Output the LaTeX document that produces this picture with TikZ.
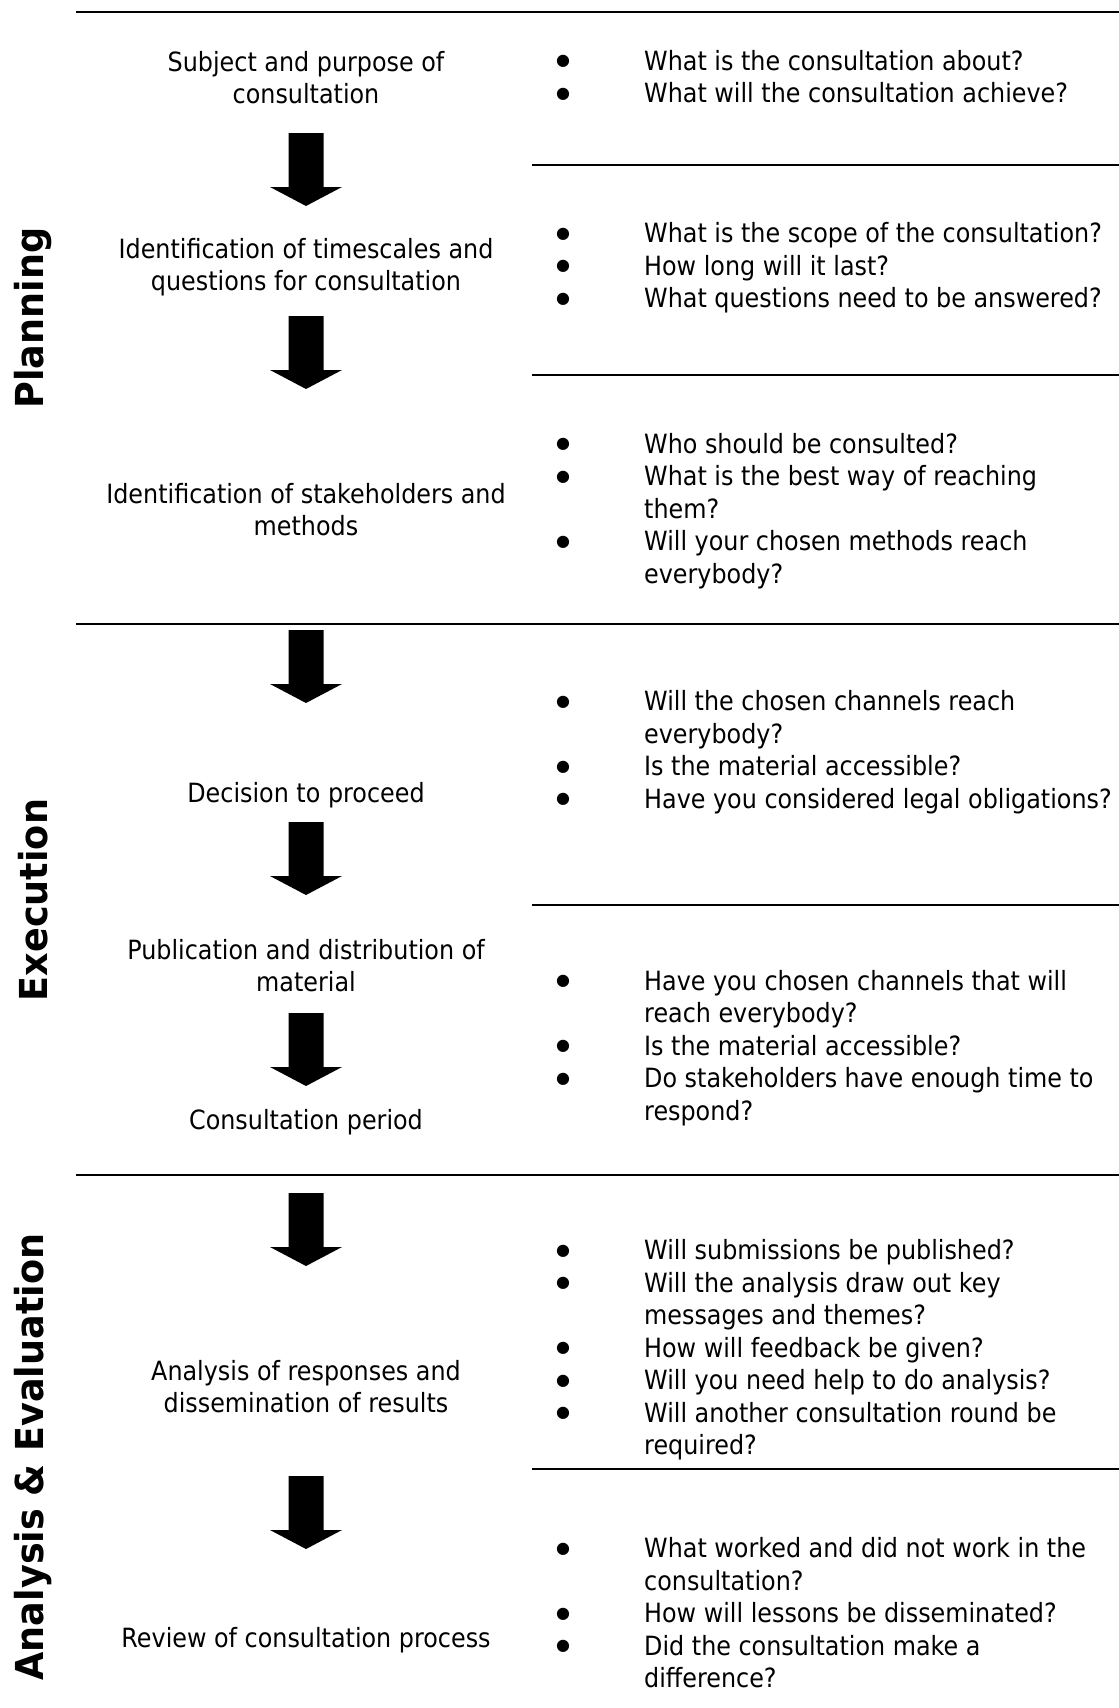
\documentclass[tikz,border=0pt]{standalone}
\usepackage{fontspec}
\setmainfont{DejaVu Sans}[FakeStretch=0.9]
\newfontfamily\phasefont{DejaVu Sans}[FakeStretch=0.95]
\newfontfamily\bulfont{DejaVu Sans}
\newcommand\qbul{\leavevmode\llap{\makebox[0pt]{\raisebox{4.5pt}{\bulfont\fontsize{16}{16}\selectfont ●}}\hspace{81pt}}}
\begin{document}
\begin{tikzpicture}[x=1pt,y=-1pt,
  sepline/.style={line width=2pt},
  stage/.style={align=center,inner sep=0pt,font=\fontsize{26.5}{32}\selectfont},
  qlist/.style={align=left,anchor=west,inner sep=0pt,font=\fontsize{26.5}{32.5}\selectfont},
  phase/.style={rotate=90,inner sep=0pt,font=\phasefont\fontsize{38.5}{42}\selectfont\bfseries},
  barrow/.pic={\fill (-17.5,0) -- (17.5,0) -- (17.5,54) -- (36,54) -- (0,73) -- (-36,54) -- (-17.5,54) -- cycle;}]
\useasboundingbox (0,0) rectangle (1119,1708);
% section and row lines
\draw[sepline] (76,12) -- (1119,12);
\draw[sepline] (76,624) -- (1119,624);
\draw[sepline] (76,1175) -- (1119,1175);
\draw[sepline] (532,165) -- (1119,165);
\draw[sepline] (532,375) -- (1119,375);
\draw[sepline] (532,905) -- (1119,905);
\draw[sepline] (532,1469) -- (1119,1469);
% phase labels
\node[phase] (p1) at (33,318) {Planning};
\node[phase] (p2) at (33,900) {Execution};
\node[phase] (p3) at (33,1457) {Analysis \& Evaluation};
% stages
\node[stage] (s1) at (306,78) {Subject and purpose of\\consultation};
\node[stage] (s2) at (306,267) {Identification of timescales and\\questions for consultation};
\node[stage] (s3) at (306,510) {Identification of stakeholders and\\methods};
\node[stage] (s4) at (306,795) {Decision to proceed};
\node[stage] (s5) at (306,966) {Publication and distribution of\\material};
\node[stage] (s6) at (306,1122) {Consultation period};
\node[stage] (s7) at (306,1387) {Analysis of responses and\\dissemination of results};
\node[stage] (s8) at (306,1640) {Review of consultation process};
% arrows
\pic at (306,133) {barrow};
\pic at (306,316) {barrow};
\pic at (306,630) {barrow};
\pic at (306,822) {barrow};
\pic at (306,1013) {barrow};
\pic at (306,1193) {barrow};
\pic at (306,1476) {barrow};
% questions
\node[qlist] (q1) at (644,76.5) {\qbul What is the consultation about?\\\qbul What will the consultation achieve?};
\node[qlist] (q2) at (644,268) {\qbul What is the scope of the consultation?\\\qbul How long will it last?\\\qbul What questions need to be answered?};
\node[qlist] (q3) at (644,511) {\qbul Who should be consulted?\\\qbul What is the best way of reaching\\them?\\\qbul Will your chosen methods reach\\everybody?};
\node[qlist] (q4) at (644,752) {\qbul Will the chosen channels reach\\everybody?\\\qbul Is the material accessible?\\\qbul Have you considered legal obligations?};
\node[qlist] (q5) at (644,1048) {\qbul Have you chosen channels that will\\reach everybody?\\\qbul Is the material accessible?\\\qbul Do stakeholders have enough time to\\respond?};
\node[qlist] (q6) at (644,1350) {\qbul Will submissions be published?\\\qbul Will the analysis draw out key\\messages and themes?\\\qbul How will feedback be given?\\\qbul Will you need help to do analysis?\\\qbul Will another consultation round be\\required?};
\node[qlist] (q7) at (644,1613) {\qbul What worked and did not work in the\\consultation?\\\qbul How will lessons be disseminated?\\\qbul Did the consultation make a\\difference?};
\end{tikzpicture}
\end{document}
